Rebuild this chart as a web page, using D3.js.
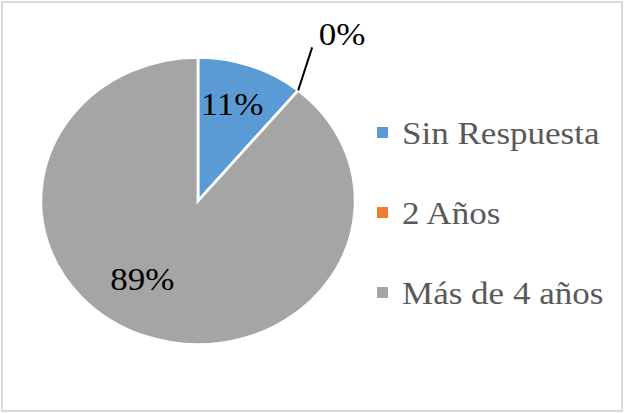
<!DOCTYPE html>
<html>
<head>
<meta charset="utf-8">
<script src="https://cdn.jsdelivr.net/npm/d3@7"></script>
<style>
  body { margin: 0; background: #fff; }
  text { font-family: "Liberation Serif", "Times New Roman", serif; }
</style>
</head>
<body>
<div id="chart"></div>
<script>
// Pie chart - años

var categories = ["Sin Respuesta", "2 Años", "Más de 4 años"];
var values = [11, 0, 89];
var labels = ["11%", "0%", "89%"];
var colors = ["#5b9bd5", "#ed7d31", "#a5a5a5"];

var width = 624;
var height = 413;
var cx = 198;
var cy = 201;
var radius = 143.5;
var stretch = 1.095;   // the picture is a bit wider than tall

var svg = d3.select("#chart")
  .append("svg")
  .attr("width", width)
  .attr("height", height);

// frame
svg.append("rect")
  .attr("x", 2)
  .attr("y", 2)
  .attr("width", width - 4)
  .attr("height", height - 4)
  .attr("fill", "#fff")
  .attr("stroke", "#d9d9d9")
  .attr("stroke-width", 2);

var data = categories.map(function(c, i) {
  return { name: c, value: values[i], label: labels[i], color: colors[i] };
});

var pie = d3.pie()
  .sort(null)
  .value(function(d) { return d.value; });

var arc = d3.arc().innerRadius(0).outerRadius(radius);

var g = svg.append("g")
  .attr("transform", "translate(" + cx + "," + cy + ") scale(" + stretch + ",1)");

var arcs = pie(data);

g.selectAll("path")
  .data(arcs)
  .enter()
  .append("path")
  .attr("d", arc)
  .attr("fill", function(d) { return d.data.color; })
  .attr("stroke", "#fff")
  .attr("stroke-width", 2.5);

// where Excel dropped the labels: angle shift (rad) and radius factor
var labelShift = [-0.035, 0, 0.23];
var labelDist = [0.71, 1, 0.65];

function polar(angle, r) {
  return [Math.sin(angle) * r, -Math.cos(angle) * r];
}

var labelLayer = svg.append("g")
  .attr("transform", "translate(" + cx + "," + cy + ")");

arcs.forEach(function(d, i) {
  var mid = (d.startAngle + d.endAngle) / 2;
  var p;
  if (d.data.value === 0) {
    // leader line for the empty slice, pointing up and slightly right
    var a = polar(d.startAngle, radius);
    a[0] *= stretch;
    var b = [a[0] + 14, a[1] - 43];
    labelLayer.append("line")
      .attr("x1", a[0]).attr("y1", a[1])
      .attr("x2", b[0]).attr("y2", b[1])
      .attr("stroke", "#000")
      .attr("stroke-width", 2);
    p = [b[0] + 30, b[1] - 14];
  } else {
    p = polar(mid + labelShift[i], radius * labelDist[i]);
    p[0] *= stretch;
  }
  labelLayer.append("text")
    .attr("transform", "translate(" + p[0] + "," + p[1] + ") scale(" + stretch + ",1)")
    .attr("text-anchor", "middle")
    .attr("dy", "0.35em")
    .attr("font-size", 32)
    .attr("fill", "#000")
    .text(d.data.label);
});

// legend
var legend = svg.append("g")
  .attr("transform", "translate(377,133)");

var rows = legend.selectAll("g")
  .data(data)
  .enter()
  .append("g")
  .attr("transform", function(d, i) { return "translate(0," + i * 80 + ")"; });

rows.append("rect")
  .attr("x", 0)
  .attr("y", -6)
  .attr("width", 11)
  .attr("height", 11)
  .attr("fill", function(d) { return d.color; });

rows.append("text")
  .attr("transform", "translate(25,0) scale(" + stretch + ",1)")
  .attr("dy", "0.33em")
  .attr("font-size", 32)
  .attr("fill", "#595959")
  .text(function(d) { return d.name; });
</script>
</body>
</html>
